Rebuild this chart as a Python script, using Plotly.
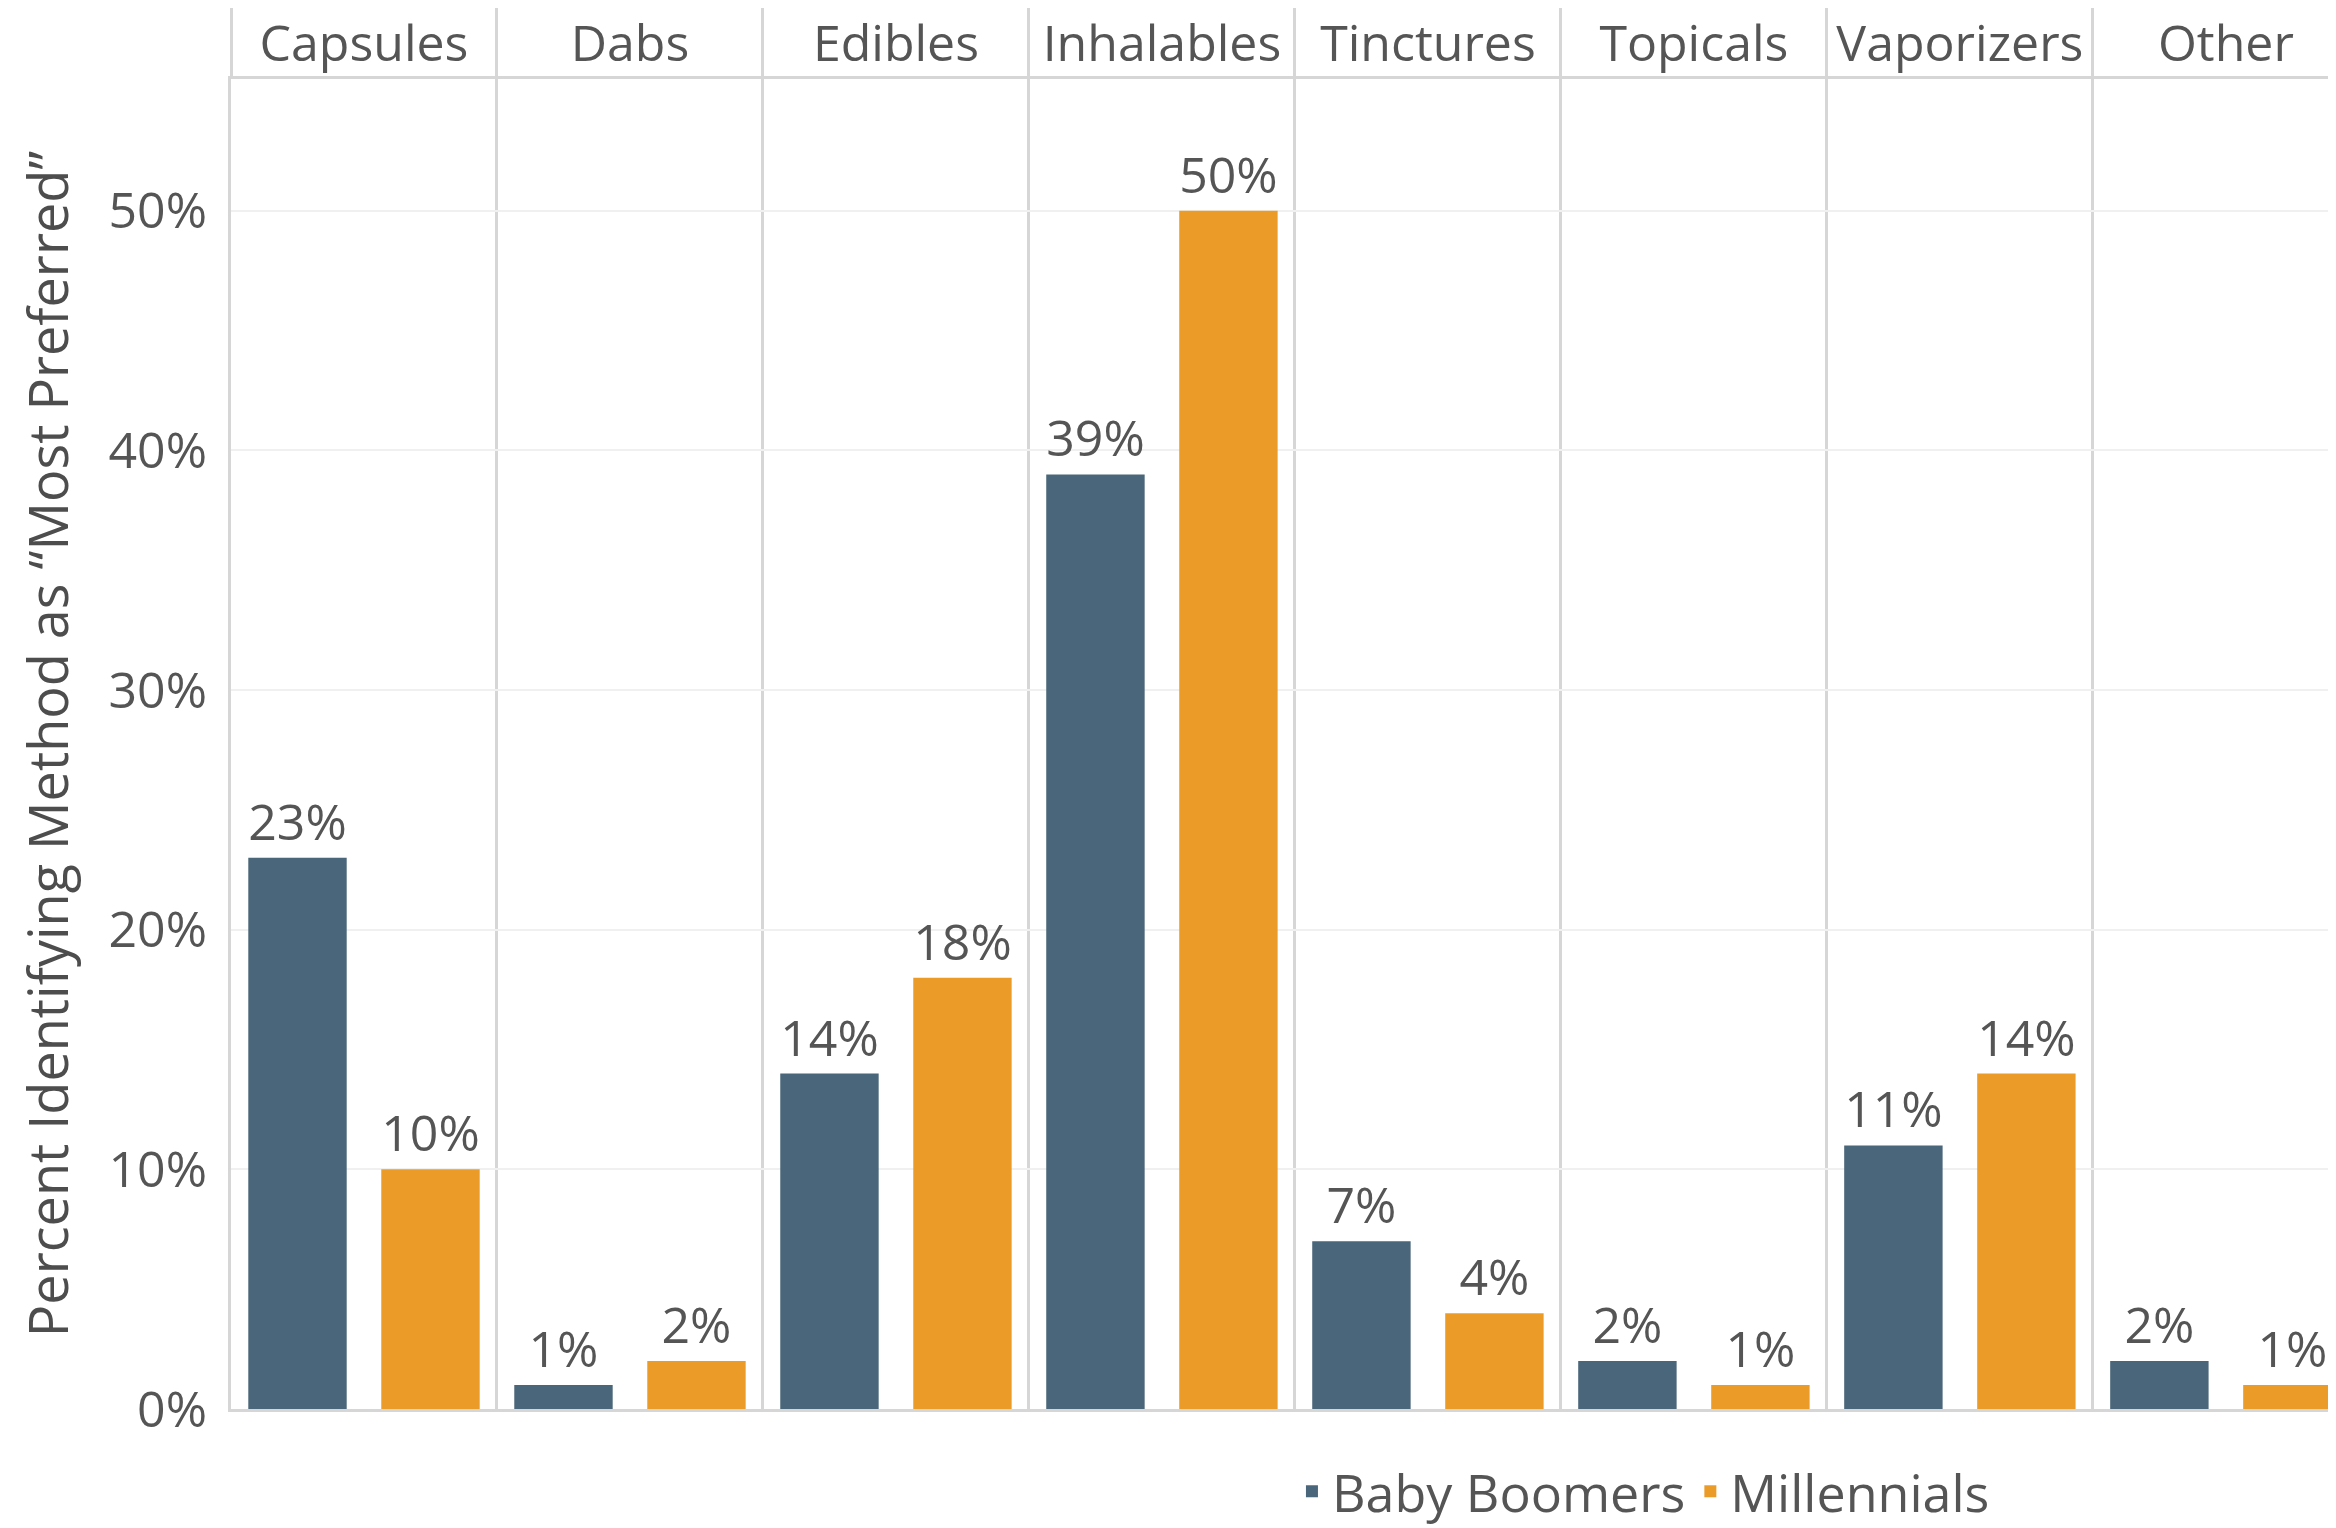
import plotly.graph_objects as go

categories = ["Capsules", "Dabs", "Edibles", "Inhalables", "Tinctures", "Topicals", "Vaporizers", "Other"]
boomers = [23, 1, 14, 39, 7, 2, 11, 2]
millennials = [10, 2, 18, 50, 4, 1, 14, 1]
series_names = ["Baby Boomers", "Millennials"]
y_ticks = [0, 10, 20, 30, 40, 50]
y_title = "Percent Identifying Method as \u201cMost Preferred\u201d"

FONT = "Open Sans"
TEXT = "#555555"
C_BOOM = "#4a667a"
C_MILL = "#eb9c28"
GRID_V = "#d6d6d6"
GRID_H = "#f0f0f0"

fig = go.Figure()
for name, vals, col in [(series_names[0], boomers, C_BOOM), (series_names[1], millennials, C_MILL)]:
    fig.add_trace(go.Bar(
        x=categories, y=vals, name=name,
        marker=dict(color=col, line=dict(width=0)),
        text=[f"{v}%" for v in vals],
        textposition="outside",
        constraintext="none",
        textfont=dict(family=FONT, size=50, color=TEXT),
        hoverinfo="skip",
    ))

fig.update_layout(
    width=2328, height=1520,
    paper_bgcolor="white", plot_bgcolor="white",
    margin=dict(l=223, r=0, t=71, b=119, autoexpand=False),
    barmode="group", bargap=0, bargroupgap=0.26,
    font=dict(family=FONT, size=50, color=TEXT),
    showlegend=True,
    legend=dict(
        orientation="h", x=0.671, xanchor="center", y=-0.062, yanchor="middle",
        font=dict(family=FONT, size=52, color=TEXT),
        bgcolor="rgba(0,0,0,0)", itemwidth=30,
    ),
    xaxis=dict(
        type="category", side="top",
        range=[-0.5, 7.414],
        tickson="boundaries", ticks="outside", ticklen=71, tickwidth=3, tickcolor=GRID_V,
        ticklabelstandoff=-5,
        tickfont=dict(family=FONT, size=50, color=TEXT),
        showgrid=True, gridcolor=GRID_V, gridwidth=3,
        showline=True, linecolor=GRID_V, linewidth=3, mirror=True,
        automargin=False, fixedrange=True,
    ),
    yaxis=dict(
        range=[0, 55.5],
        tickvals=y_ticks, ticktext=[f"{v}%" for v in y_ticks],
        tickfont=dict(family=FONT, size=50, color=TEXT),
        ticklabelstandoff=11,
        showgrid=True, gridcolor=GRID_H, gridwidth=2,
        zeroline=False,
        showline=True, linecolor=GRID_V, linewidth=3,
        title=dict(text=y_title, font=dict(family=FONT, size=54, color="#4d4d4d"), standoff=23),
        automargin=False, fixedrange=True,
    ),
)

fig.write_html("out.html")
